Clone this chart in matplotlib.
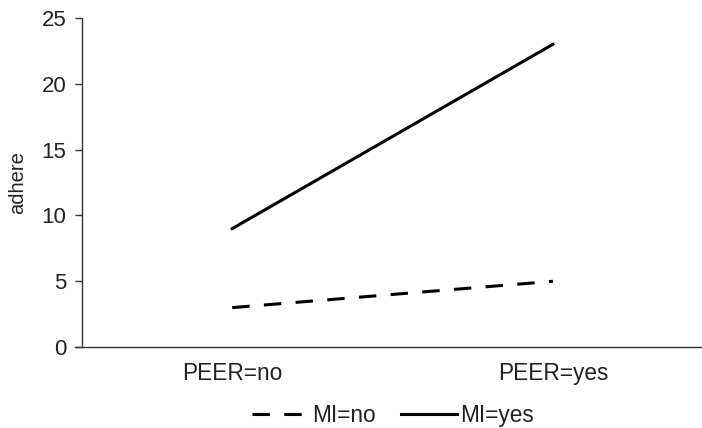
import matplotlib
matplotlib.use("Agg")
import matplotlib.pyplot as plt
from matplotlib.lines import Line2D

plt.rcParams["font.family"] = ["Liberation Sans", "DejaVu Sans"]

categories = ["PEER=no", "PEER=yes"]
mi_no = [3, 5]
mi_yes = [9, 23]
series_labels = ["MI=no", "MI=yes"]
y_ticks = [0, 5, 10, 15, 20, 25]

dash = (0, (5.7, 4.7))

fig = plt.figure(figsize=(7.02, 4.28), dpi=100)
ax = fig.add_axes([0.107, 0.189, 0.893, 0.769])

x = list(range(len(categories)))
ax.plot(x, mi_no, color="black", linewidth=2.2, linestyle=dash)
ax.plot(x, mi_yes, color="black", linewidth=2.2)

ax.set_xlim(-0.49, 1.465)
ax.set_ylim(0, 25)
ax.set_yticks(y_ticks)
ax.set_xticks(x)
ax.set_xticklabels(categories)

for side in ["top", "right"]:
    ax.spines[side].set_visible(False)
ax.spines["left"].set_position(("data", -0.47))
for side in ["left", "bottom"]:
    ax.spines[side].set_color("#333333")
    ax.spines[side].set_linewidth(1.0)

ax.tick_params(axis="y", direction="out", length=5, width=1.0, color="#333333",
               labelsize=16, labelcolor="#222222", pad=6)
ax.tick_params(axis="x", length=0, labelsize=16.3, labelcolor="#222222", pad=11)
ax.set_ylabel("adhere", fontsize=14.5, color="#222222", labelpad=10)

handles = [
    Line2D([], [], color="black", linewidth=2.2, linestyle=dash),
    Line2D([], [], color="black", linewidth=2.2),
]
fig.legend(handles, series_labels, loc="center", bbox_to_anchor=(0.56, 0.03),
           ncol=2, frameon=False, fontsize=16.3, handlelength=2.5,
           handletextpad=0.15, columnspacing=1.1, labelcolor="#222222",
           borderpad=0)

fig.savefig("out.png", dpi=100)
